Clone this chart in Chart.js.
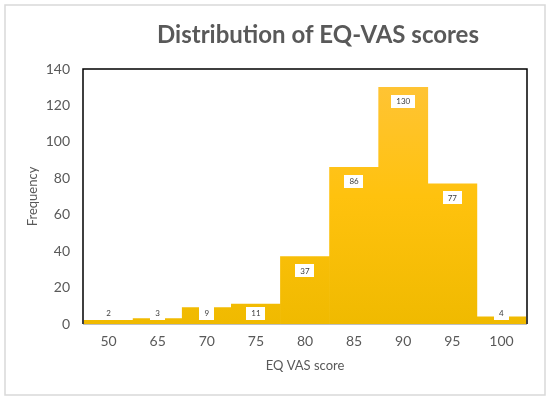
<!DOCTYPE html>
<html>
<head>
<meta charset="UTF-8">
<title>Distribution of EQ-VAS scores</title>
<script src="https://cdn.jsdelivr.net/npm/chart.js@4"></script>
<style>
  body { margin: 0; background: #fff; }
</style>
</head>
<body>
<canvas id="myChart" width="550" height="399"></canvas>
<script>
var scoreLabels = ['50', '65', '70', '75', '80', '85', '90', '95', '100'];
var frequency = [2, 3, 9, 11, 37, 86, 130, 77, 4];
var yTicks = [0, 20, 40, 60, 80, 100, 120, 140];
var chartTitle = 'Distribution of EQ-VAS scores';

var textGray = '#595959';
var fontFam = 'Lato, "Open Sans", sans-serif';

// frame round the whole picture, title, and box round the plot
var framePlugin = {
  id: 'frame',
  beforeDraw: function(chart) {
    var c = chart.ctx;
    c.save();
    c.fillStyle = '#fff';
    c.fillRect(0, 0, chart.width, chart.height);
    c.strokeStyle = '#d9d9d9';
    c.lineWidth = 1.5;
    c.strokeRect(5, 5, chart.width - 10, chart.height - 9);
    // title sits a bit right of the plot centre, like the original
    c.fillStyle = textGray;
    c.font = 'bold 24px ' + fontFam;
    c.textAlign = 'center';
    c.textBaseline = 'middle';
    c.fillText(chartTitle, 318, 35);
    c.restore();
  },
  afterDatasetsDraw: function(chart) {
    var a = chart.chartArea;
    var c = chart.ctx;
    c.save();
    c.strokeStyle = '#000';
    c.lineWidth = 1.5;
    c.beginPath();
    c.moveTo(a.left - 1, a.bottom);
    c.lineTo(a.left - 1, a.top);
    c.lineTo(a.right + 1, a.top);
    c.lineTo(a.right + 1, a.bottom);
    c.stroke();
    c.strokeStyle = '#bfbfbf';
    c.lineWidth = 1;
    c.beginPath();
    c.moveTo(a.left - 1, a.bottom + 0.5);
    c.lineTo(a.right + 1, a.bottom + 0.5);
    c.stroke();
    c.restore();
  }
};

// white boxes with the count in them
var labelPlugin = {
  id: 'boxLabels',
  afterDatasetsDraw: function(chart) {
    var c = chart.ctx;
    var meta = chart.getDatasetMeta(0);
    var base = chart.chartArea.bottom;
    c.save();
    c.font = '8px ' + fontFam;
    c.textAlign = 'center';
    c.textBaseline = 'middle';
    meta.data.forEach(function(bar, i) {
      var txt = String(frequency[i]);
      var y = Math.min(bar.y + 14, base - 11);
      var w = c.measureText(txt).width + 10;
      var h = 13;
      c.fillStyle = '#fff';
      c.fillRect(Math.round(bar.x - w / 2), Math.round(y - h / 2), Math.round(w), h);
      c.fillStyle = '#404040';
      c.fillText(txt, bar.x, y + 0.5);
    });
    c.restore();
  }
};

var ctx = document.getElementById('myChart').getContext('2d');
var chart = new Chart(ctx, {
  type: 'bar',
  data: {
    labels: scoreLabels,
    datasets: [{
      label: 'Frequency',
      data: frequency,
      backgroundColor: function(context) {
        var a = context.chart.chartArea;
        if (!a) return '#FFC000';
        var g = context.chart.ctx.createLinearGradient(0, a.top, 0, a.bottom);
        g.addColorStop(0, '#FFC43A');
        g.addColorStop(0.5, '#FFC20E');
        g.addColorStop(1, '#F0BA00');
        return g;
      },
      borderWidth: 0,
      categoryPercentage: 1.0,
      barPercentage: 1.0
    }]
  },
  options: {
    responsive: false,
    animation: false,
    layout: { padding: { left: 0, right: 24, top: 69, bottom: 0 } },
    plugins: {
      legend: { display: false },
      tooltip: { enabled: false },
      title: { display: false }
    },
    scales: {
      x: {
        grid: { display: false, drawTicks: false },
        border: { display: false },
        ticks: {
          color: textGray,
          font: { family: fontFam, size: 14 },
          padding: 9,
          maxRotation: 0
        },
        title: {
          display: true,
          text: 'EQ VAS score',
          color: textGray,
          font: { family: fontFam, size: 13 },
          padding: { top: 0, bottom: 25 }
        },
        afterFit: function(scale) { scale.height = 75; }
      },
      y: {
        min: 0,
        max: 140,
        grid: { display: false, drawTicks: false },
        border: { display: false },
        afterBuildTicks: function(scale) {
          scale.ticks = yTicks.map(function(v) { return { value: v }; });
        },
        ticks: {
          color: textGray,
          font: { family: fontFam, size: 14 },
          padding: 14
        },
        title: {
          display: true,
          text: 'Frequency',
          color: textGray,
          font: { family: fontFam, size: 13 },
          padding: { top: 25, bottom: 0 }
        },
        afterFit: function(scale) { scale.width = 84; }
      }
    }
  },
  plugins: [framePlugin, labelPlugin]
});
</script>
</body>
</html>
